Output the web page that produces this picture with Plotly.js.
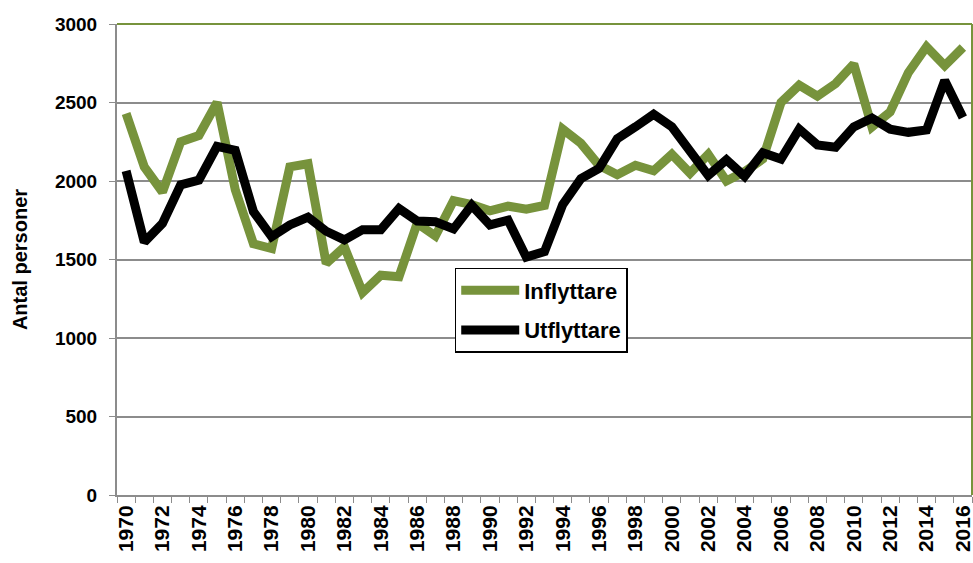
<!DOCTYPE html>
<html>
<head>
<meta charset="utf-8">
<script src="https://cdn.plot.ly/plotly-3.0.1.min.js"></script>
<style>
  html, body { margin: 0; padding: 0; background: #fff; }
  #chart { width: 973px; height: 563px; }
</style>
</head>
<body>
<div id="chart"></div>
<script>
// years 1970-2016
let years = [];
for (let y = 1970; y <= 2016; y++) years.push(y);

let inflyttare = [2430, 2090, 1930, 2250, 2290, 2500, 1945, 1600, 1570, 2090,
                  2110, 1475, 1580, 1290, 1400, 1390, 1730, 1650, 1875, 1850,
                  1810, 1840, 1820, 1845, 2330, 2240, 2100, 2040, 2100, 2065,
                  2170, 2050, 2170, 2000, 2060, 2140, 2500, 2610, 2540, 2620,
                  2745, 2345, 2440, 2690, 2855, 2735, 2850];

let utflyttare = [2065, 1610, 1730, 1975, 2005, 2220, 2195, 1805, 1645, 1720,
                  1770, 1680, 1625, 1690, 1690, 1825, 1745, 1740, 1695, 1845,
                  1720, 1750, 1515, 1550, 1850, 2015, 2080, 2270, 2345, 2425,
                  2345, 2190, 2035, 2135, 2030, 2180, 2140, 2330, 2230, 2215,
                  2345, 2400, 2330, 2310, 2325, 2640, 2405];

let tickYears = years.filter(y => y % 2 === 0);

let green = '#77933C';
let gray = '#8c8c8c';
let fontFam = 'Liberation Sans, Arial, sans-serif';

let traces = [
  {
    x: years, y: inflyttare, name: 'Inflyttare', legendgroup: 'a',
    type: 'scatter', mode: 'lines',
    line: {color: green, width: 9}
  },
  {
    x: years, y: utflyttare, name: 'Utflyttare', legendgroup: 'b',
    type: 'scatter', mode: 'lines',
    line: {color: '#000000', width: 9}
  }
];

let layout = {
  width: 973,
  height: 563,
  margin: {l: 117, r: 1, t: 24, b: 68},
  paper_bgcolor: '#fff',
  plot_bgcolor: '#fff',
  font: {family: fontFam, color: '#000'},
  showlegend: true,
  legend: {
    x: 0.395, y: 0.482, xanchor: 'left', yanchor: 'top',
    bgcolor: '#fff', bordercolor: '#000', borderwidth: 1.5,
    font: {size: 22, family: fontFam, weight: 'bold'},
    itemwidth: 58,
    tracegroupgap: 8
  },
  xaxis: {
    range: [1969.5, 2016.5],
    tickmode: 'array',
    tickvals: tickYears,
    ticktext: tickYears.map(String),
    tickangle: -90,
    ticks: '',
    ticklabeloverflow: 'allow',
    showgrid: false,
    zeroline: false,
    showline: true,
    linecolor: gray,
    linewidth: 2,
    tickfont: {size: 21, family: fontFam, weight: 'bold'},
    minor: {tick0: 1969.5, dtick: 1, ticks: 'outside', ticklen: 6, tickcolor: gray, showgrid: false}
  },
  yaxis: {
    range: [0, 3000],
    dtick: 500,
    ticks: 'outside',
    ticklen: 6,
    tickcolor: gray,
    ticklabelstandoff: 8,
    showgrid: true,
    gridcolor: gray,
    gridwidth: 2,
    zeroline: false,
    showline: true,
    linecolor: gray,
    linewidth: 2,
    tickfont: {size: 19, family: fontFam, weight: 'bold'},
    title: {text: 'Antal personer', font: {size: 20, family: fontFam, weight: 'bold'}, standoff: 22}
  },
  shapes: [
    {type: 'line', xref: 'paper', yref: 'paper', x0: 0, x1: 1, y0: 1, y1: 1, line: {color: green, width: 2}},
    {type: 'line', xref: 'paper', yref: 'paper', x0: 1, x1: 1, y0: 0, y1: 1, line: {color: green, width: 2}}
  ]
};

Plotly.newPlot('chart', traces, layout, {displayModeBar: false});
</script>
</body>
</html>
